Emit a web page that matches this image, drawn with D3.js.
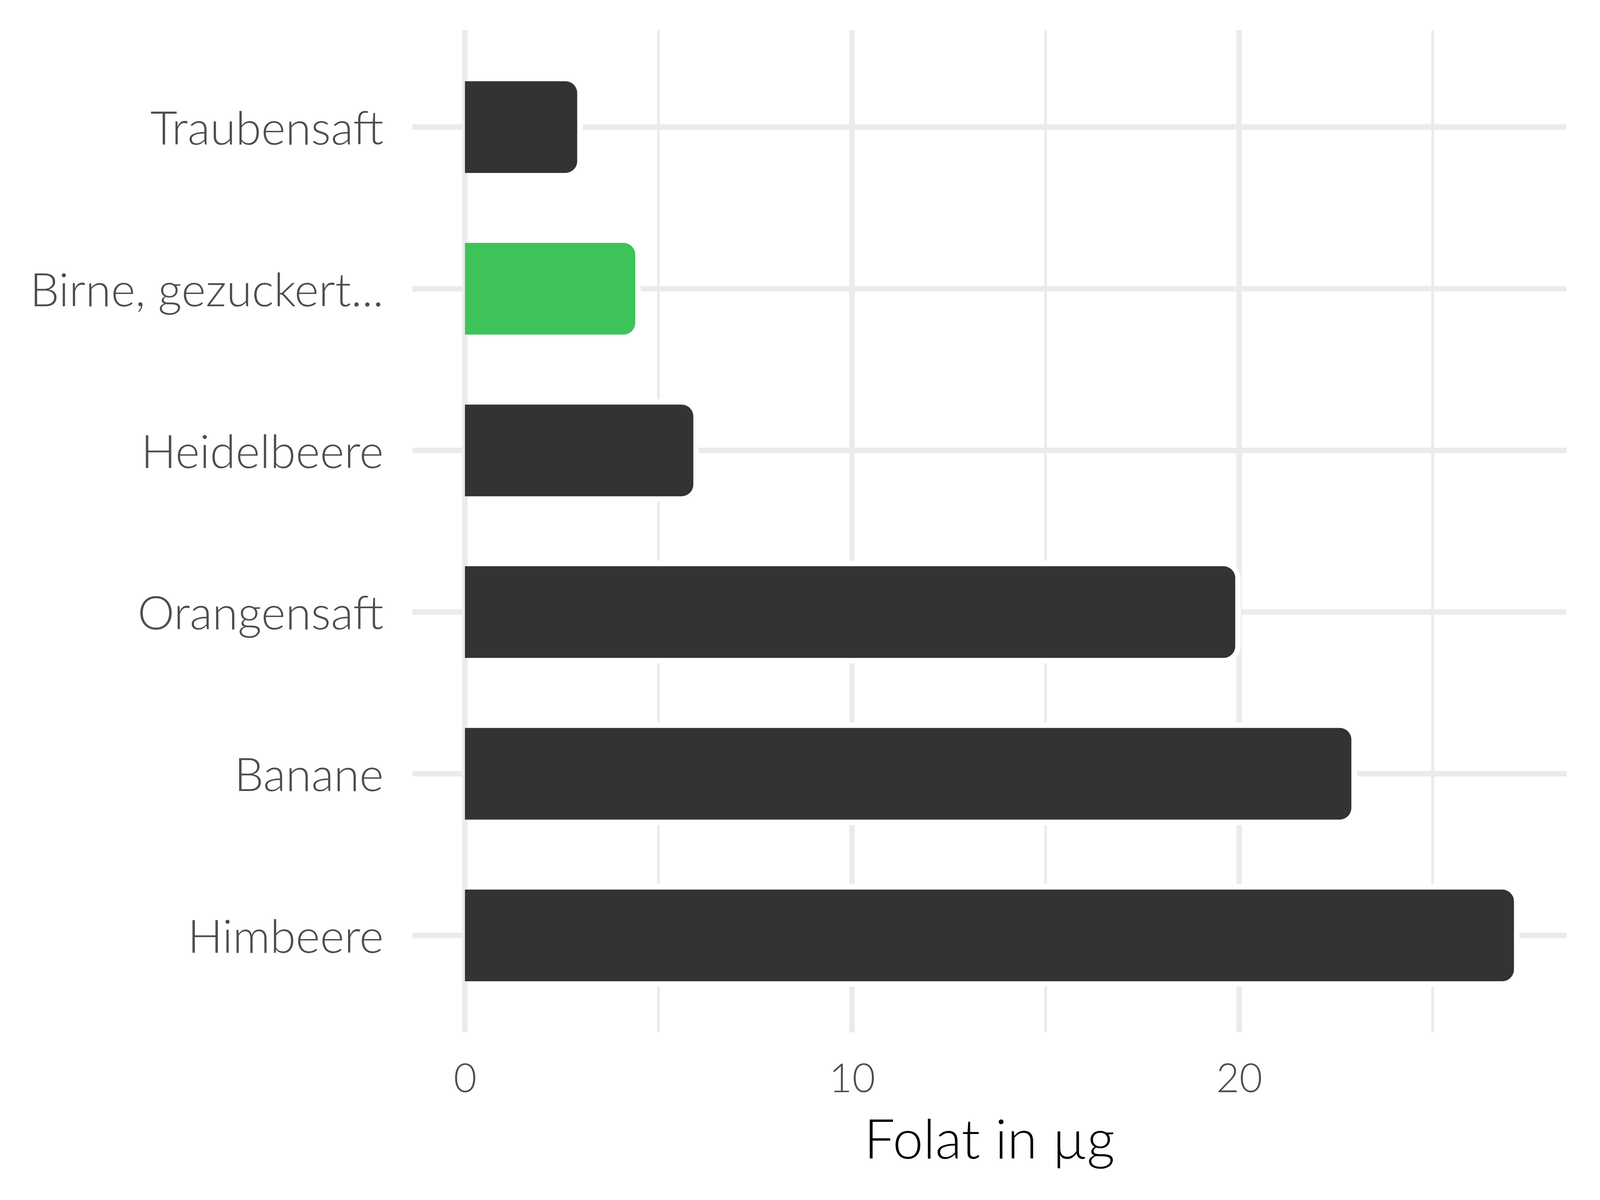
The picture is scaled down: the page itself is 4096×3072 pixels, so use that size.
<!DOCTYPE html>
<html>
<head>
<meta charset="utf-8">
<script src="https://cdn.jsdelivr.net/npm/d3@7"></script>
<style>
  html, body { margin: 0; padding: 0; background: #fff; }
  svg { display: block; }
</style>
</head>
<body>
<div id="chart"></div>
<script>
const categories = ["Traubensaft", "Birne, gezuckert...", "Heidelbeere", "Orangensaft", "Banane", "Himbeere"];
const values = [2.9, 4.4, 5.9, 19.9, 22.9, 27.1];
const highlighted = "Birne, gezuckert...";
const majorTicks = [0, 10, 20];
const minorTicks = [5, 15, 25];
const xTitle = "Folat in µg";

const width = 4096, height = 3072;
const panel = {left: 1056, right: 4010, top: 77, bottom: 2643};
const font = "Lato, 'Open Sans', sans-serif";

const data = categories.map((c, i) => ({name: c, value: values[i]}));
const maxVal = d3.max(values);

const svg = d3.select("#chart")
    .append("svg")
    .attr("width", width)
    .attr("height", height);

const x = d3.scaleLinear()
    .domain([-0.05 * maxVal, maxVal * 1.05])
    .range([panel.left, panel.right]);

const y = d3.scalePoint()
    .domain(categories)
    .range([panel.top, panel.bottom])
    .padding(0.6);

const barH = y.step() * 0.567;
const radius = 30;
const halo = 14;

// grid
const grid = svg.append("g");
grid.selectAll(".minor")
    .data(minorTicks)
    .enter().append("line")
    .attr("x1", d => x(d)).attr("x2", d => x(d))
    .attr("y1", panel.top).attr("y2", panel.bottom)
    .attr("stroke", "#EBEBEB").attr("stroke-width", 7);
grid.selectAll(".major")
    .data(majorTicks)
    .enter().append("line")
    .attr("x1", d => x(d)).attr("x2", d => x(d))
    .attr("y1", panel.top).attr("y2", panel.bottom)
    .attr("stroke", "#EBEBEB").attr("stroke-width", 14);
grid.selectAll(".hline")
    .data(categories)
    .enter().append("line")
    .attr("x1", panel.left).attr("x2", panel.right)
    .attr("y1", d => y(d)).attr("y2", d => y(d))
    .attr("stroke", "#EBEBEB").attr("stroke-width", 14);

// bar with square left side and rounded right corners
const barPath = (x0, y0, x1, y1, r) => {
    r = Math.min(r, (x1 - x0), (y1 - y0) / 2);
    return `M${x0},${y0}H${x1 - r}A${r},${r} 0 0 1 ${x1},${y0 + r}` +
        `V${y1 - r}A${r},${r} 0 0 1 ${x1 - r},${y1}H${x0}Z`;
};

// white halo round each bar
svg.append("g").selectAll("path")
    .data(data)
    .enter().append("path")
    .attr("d", d => barPath(x(0) + 7, y(d.name) - barH / 2 - halo,
        x(d.value) + halo, y(d.name) + barH / 2 + halo, radius + halo))
    .attr("fill", "#fff");

svg.append("g").selectAll("path")
    .data(data)
    .enter().append("path")
    .attr("d", d => barPath(x(0), y(d.name) - barH / 2, x(d.value), y(d.name) + barH / 2, radius))
    .attr("fill", d => d.name === highlighted ? "#3EC35A" : "#333333");

// axes
const xAxis = svg.append("g")
    .attr("transform", `translate(0,${panel.bottom})`)
    .call(d3.axisBottom(x).tickValues(majorTicks).tickSize(0).tickPadding(81));
xAxis.select(".domain").remove();
xAxis.selectAll("text")
    .attr("fill", "#4D4D4D")
    .style("font-family", font)
    .style("font-weight", 300)
    .style("font-size", "102px");

const yAxis = svg.append("g")
    .attr("transform", `translate(${panel.left},0)`)
    .call(d3.axisLeft(y).tickSize(0).tickPadding(74));
yAxis.select(".domain").remove();
yAxis.selectAll("text")
    .attr("fill", "#4D4D4D")
    .attr("dy", "0.37em")
    .style("font-family", font)
    .style("font-weight", 300)
    .style("font-size", "119px");

svg.append("text")
    .attr("x", (panel.left + panel.right) / 2)
    .attr("y", 2966)
    .attr("text-anchor", "middle")
    .attr("fill", "#000")
    .style("font-family", font)
    .style("font-weight", 300)
    .style("font-size", "140px")
    .text(xTitle);
</script>
</body>
</html>
